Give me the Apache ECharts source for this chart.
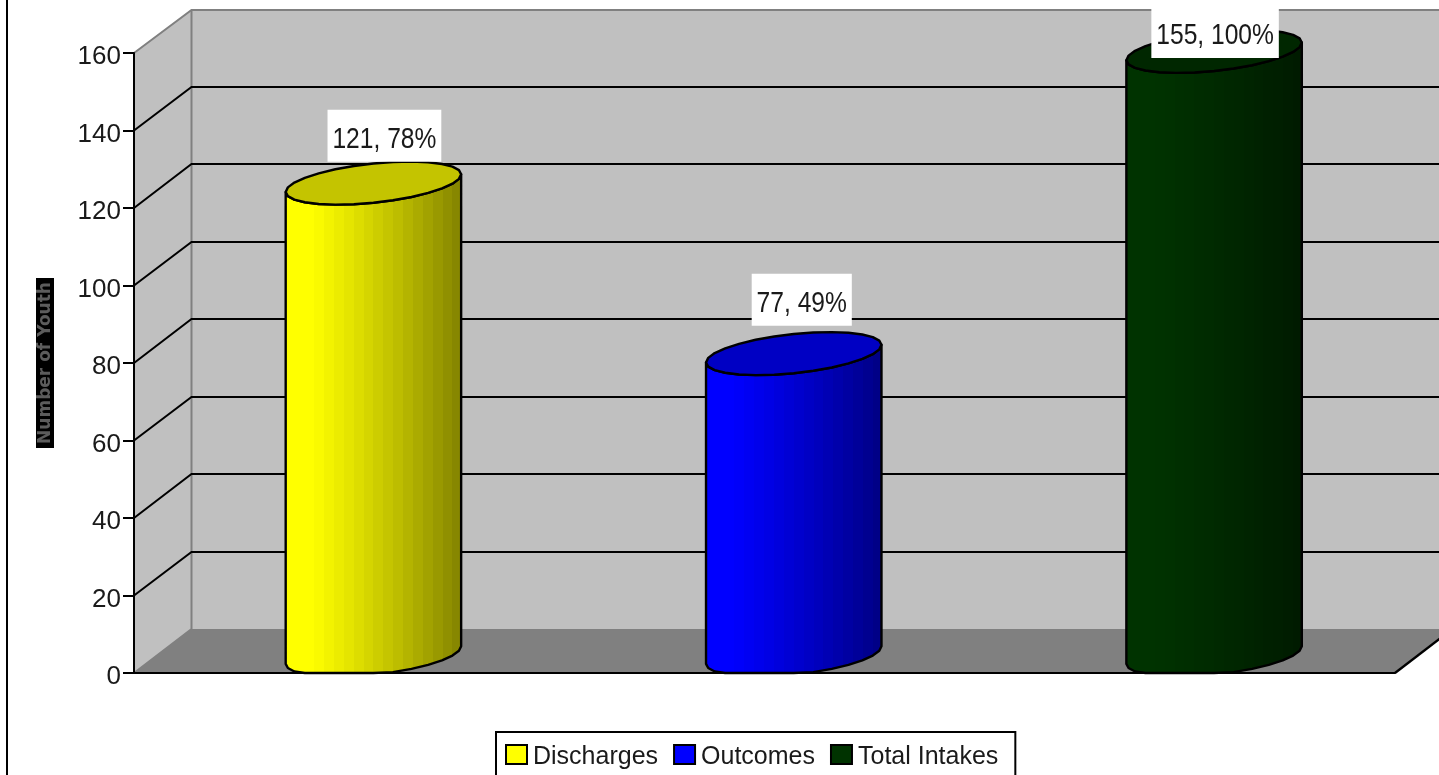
<!DOCTYPE html>
<html><head><meta charset="utf-8">
<style>html,body{margin:0;padding:0;background:#fff;overflow:hidden}#c{width:1439px;height:775px}</style>
<script src="https://cdn.jsdelivr.net/npm/echarts@6/dist/echarts.min.js"></script>
</head><body><div id="c"></div>
<script>
const categories = ['Discharges', 'Outcomes', 'Total Intakes'];
const values = [121, 77, 155];
const percents = [78, 49, 100];
const yTicks = [0, 20, 40, 60, 80, 100, 120, 140, 160];
const palette = [[255, 255, 0], [0, 0, 255], [0, 51, 0]];
const labelLift = [21.5, 28, -6.6];
const labelShift = [11, 8, 1];
const depth = { x: 57.5, y: -44 };
const FONT = '"Liberation Sans", Arial, sans-serif';

const chart = echarts.init(document.getElementById('c'), null, { renderer: 'canvas' });

function shade(rgb, f) { return 'rgb(' + rgb.map(c => Math.round(c * f)).join(',') + ')'; }
function bodyFill(rgb) {
  const bands = 18, stops = [];
  for (let i = 0; i < bands; i++) {
    const u = i / (bands - 1);
    const f = u < 0.12 ? 1 : 1 - 0.47 * Math.pow((u - 0.12) / 0.88, 1.15);
    stops.push({ offset: i / bands, color: shade(rgb, f) });
    stops.push({ offset: (i + 1) / bands, color: shade(rgb, f) });
  }
  return new echarts.graphic.LinearGradient(0, 0, 1, 0, stops);
}

function wallItem(params, api) {
  const cs = params.coordSys;
  const x0 = cs.x, x1 = cs.x + cs.width;
  const yb = api.coord([0, 0])[1], yt = api.coord([0, 160])[1];
  const dx = depth.x, dy = depth.y, ytb = yt + dy + 1;
  const fill = c => ({ fill: c, stroke: null });
  const edge = { stroke: '#808080', lineWidth: 2, fill: null };
  return { type: 'group', children: [
    { type: 'polygon', shape: { points: [[x0 + dx, ytb], [x1 + dx, ytb], [x1 + dx, yb + dy], [x0 + dx, yb + dy]] }, style: fill('#c0c0c0') },
    { type: 'polygon', shape: { points: [[x0, yt], [x0 + dx, ytb], [x0 + dx, yb + dy], [x0, yb]] }, style: fill('#c0c0c0') },
    { type: 'polygon', shape: { points: [[x0, yb], [x0 + dx, yb + dy], [x1 + dx, yb + dy], [x1, yb]] }, style: fill('#808080') },
    { type: 'polyline', shape: { points: [[x0, yt], [x0 + dx, ytb], [x1 + dx, ytb]] }, style: edge },
    { type: 'polyline', shape: { points: [[x0 + dx, ytb], [x0 + dx, yb + dy], [x0, yb]] }, style: edge },
    { type: 'line', shape: { x1: x1, y1: yb, x2: x1 + dx, y2: yb + dy }, style: { stroke: '#000', lineWidth: 2.4 } }
  ] };
}

function gridItem(params, api) {
  const v = api.value(1);
  if (v === 0 || v === 160) return null;
  const cs = params.coordSys, y = api.coord([0, v])[1];
  const yBack = Math.round(y + depth.y);
  return { type: 'polyline',
    shape: { points: [[cs.x, y], [cs.x + depth.x, yBack], [cs.x + cs.width + depth.x, yBack]] },
    style: { stroke: '#000', lineWidth: 2, fill: null } };
}

function cylinderItem(seriesIdx) {
  return function (params, api) {
    const cat = api.value(0), val = api.value(1), pct = api.value(2);
    const base = api.coord([cat, 0]), top = api.coord([cat, val]);
    const floorY = base[1];
    const cx = base[0] + depth.x / 2 + 0.5;
    const by = base[1] - 18, ty = top[1] - 21;
    const ux = 80, vx = 36, vy = -21.5;
    const rim = (cy, t) => [cx + ux * Math.cos(t) + vx * Math.sin(t), Math.min(floorY, cy + vy * Math.sin(t))];
    const tR = Math.atan2(vx, ux), tL = tR + Math.PI;
    const n = 28, ellipse = [], body = [];
    for (let i = 0; i < n; i++) ellipse.push(rim(ty, tR + 2 * Math.PI * i / n));
    for (let i = 0; i <= n / 2; i++) body.push(rim(by, tL + 2 * Math.PI * i / n));
    for (let i = 0; i <= n / 2; i++) body.push(rim(ty, tR + 2 * Math.PI - 2 * Math.PI * i / n));
    const rgb = palette[seriesIdx];
    return { type: 'group', children: [
      { type: 'polygon', shape: { points: body }, style: { fill: bodyFill(rgb), stroke: '#000', lineWidth: 2.4, lineJoin: 'round' } },
      { type: 'polygon', shape: { points: ellipse }, style: { fill: shade(rgb, 0.77), stroke: '#000', lineWidth: 2.4, lineJoin: 'round' } },
      { type: 'text', z2: 50, x: cx + labelShift[seriesIdx], y: ty - labelLift[seriesIdx], scaleX: 0.82, style: {
          text: val + ', ' + pct + '%', x: 0, y: 0, align: 'center', verticalAlign: 'bottom',
          font: '30px ' + FONT, fill: '#1a1a1a', backgroundColor: '#fff', padding: [15, 6, 7, 6]
      } }
    ] };
  };
}

const option = {
  animation: false,
  backgroundColor: '#fff',
  grid: { left: 134, right: 44, top: 53, bottom: 102, containLabel: false },
  graphic: [{ type: 'rect', left: 6, top: 0, shape: { width: 2, height: 775 }, style: { fill: '#000' }, z: 100 }],
  legend: {
    data: categories, left: 496, top: 732, orient: 'horizontal',
    backgroundColor: '#fff', borderColor: '#000', borderWidth: 2, padding: [12, 17, 14, 9],
    itemWidth: 21, itemHeight: 19, itemGap: 15, icon: 'rect', selectedMode: false,
    itemStyle: { borderColor: '#000', borderWidth: 2 },
    formatter: '{t|{name}}',
    textStyle: { rich: { t: { fontSize: 25, fontFamily: FONT, color: '#1a1a1a', padding: [6, 0, 0, 1] } } }
  },
  xAxis: { type: 'category', data: categories, z: 10, boundaryGap: true,
    axisLine: { lineStyle: { color: '#000', width: 2 } }, axisTick: { show: false }, axisLabel: { show: false }, splitLine: { show: false } },
  yAxis: { type: 'value', min: 0, max: 160, interval: 20, z: 10,
    name: 'Number of Youth', nameLocation: 'middle', nameRotate: 90, nameGap: 80,
    nameTextStyle: { fontFamily: '"DejaVu Sans", sans-serif', fontWeight: 'bold', fontSize: 17, color: '#5c5c5c', backgroundColor: '#000', padding: [1, 4, 0, 4] },
    axisLine: { show: true, lineStyle: { color: '#000', width: 2 } },
    axisTick: { show: true, length: 11, lineStyle: { color: '#000', width: 2 } },
    axisLabel: { fontSize: 26, fontFamily: FONT, color: '#1a1a1a', margin: 13, verticalAlign: 'top', lineHeight: 8, formatter: v => String(v) },
    splitLine: { show: false } },
  series: [
    { type: 'custom', name: 'walls', silent: true, z: 1, renderItem: wallItem, data: [[0, 160]] },
    { type: 'custom', name: 'gridlines', silent: true, z: 1, renderItem: gridItem, data: yTicks.map(v => [0, v]) }
  ].concat(categories.map((name, i) => ({
    type: 'custom', name: name, z: 2, silent: true, itemStyle: { color: shade(palette[i], 1) },
    renderItem: cylinderItem(i), data: [[i, values[i], percents[i]]]
  })))
};
chart.setOption(option);
</script></body></html>
